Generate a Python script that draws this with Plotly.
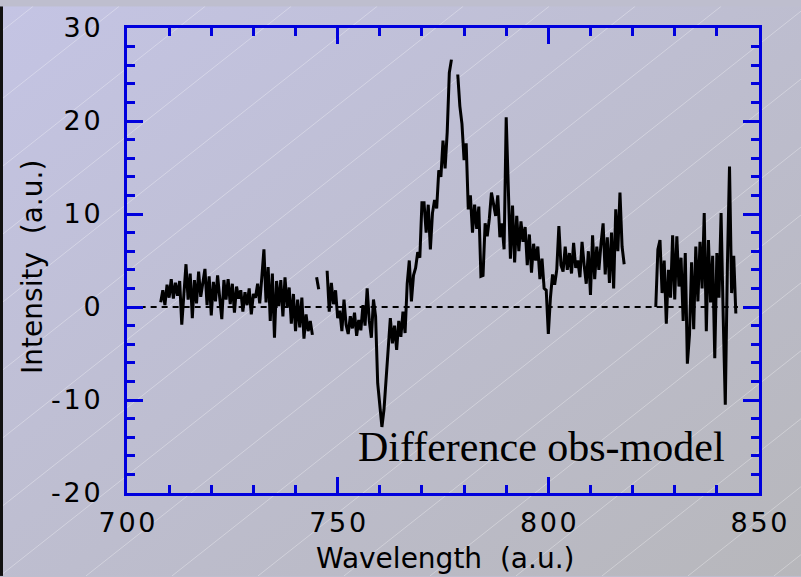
import base64
import numpy as np
import plotly.graph_objects as go

# Difference spectrum (observed - model), sampled every 0.5 nm.
# None marks missing samples (gaps in the trace).
step = 0.5

seg1_start = 708.0
seg1 = [0.5, 1.8, 0.2, 2.4, 1.0,
        3.0, 0.9, 2.6, 1.2,
        2.8, -1.9, 1.5, 4.6,
        0.8, 3.6, -1.2, 2.9,
        0.4, 3.8, 1.1, 2.5,
        4.1, 0.2, 3.3, -0.9,
        2.7, 0.6, 3.4, 1.0,
        -1.3, 2.9, 0.8, 3.0,
        0.3, 2.5, -0.6, 2.2,
        0.9, 1.8, -0.5, 1.6,
        0.2, 2.0, -0.8, 1.4,
        1.0, 2.5, 0.4, 3.2,
        6.2,
        0.5, 4.3, -1.5,
        3.6, -3.3, 2.8, 0.1,
        2.9, -1.0, 3.2, 0.0,
        2.1, -1.8, 1.4, -2.6,
        0.8, -2.2, 1.0, -3.4,
        -0.8, -2.6, -1.5, -3.0]

seg2_start = 745.0
seg2 = [3.2, 1.9]

seg3_start = 747.5
seg3 = [3.9, -0.5, 2.6, 0.3, 1.8, -1.2, -0.4, -2.6, 0.8, -1.9,
        -2.9, -1.0, -2.3, -0.6, -3.1, -1.4, -2.5, 0.2, -2.0, 2.0,
        -1.5, -3.3, 0.8, -1.0, -8.2, -10.4, -12.9, -11.0, -7.5, -3.8,
        -1.2, -3.9, -2.0, -4.6, -1.5, -3.2, -0.5, -2.8, 2.5, 5.0,
        0.6, 3.4, 4.2, 5.9, 5.3, 11.2, 11.2, 8.0, 11.0, 6.2,
        10.1, 11.5, 10.6, 14.7, 14.0, 17.9, 14.9, 18.8, 25.2, 26.6,
        None, None, 25.0, 21.6, 19.7, 15.8, 17.6, 10.5, 12.0, 8.0,
        11.0, 8.4, 10.8, 3.3, 3.4, 9.0, 7.6, 9.5, 12.3, 11.0,
        9.8, 12.0, 7.5, 9.0, 6.2, 20.4, 11.5, 5.2, 10.9, 4.8,
        9.8, 6.0, 9.2, 7.0, 8.6, 4.5, 7.8, 3.7, 6.8, 5.0,
        6.5, 3.0, 5.2, 2.0, 1.8, -2.9, 1.0, 3.5, 2.4, 4.0,
        8.7, 4.5, 3.8, 6.5, 4.0, 5.8, 3.6, 6.9, 4.2, 5.0,
        3.2, 7.0, 4.5, 2.5, 6.0, 1.3, 7.7, 3.0, 6.5, 4.0,
        6.8, 9.0, 3.5, 7.5, 2.6, 8.0, 2.0, 10.5, 6.0, 12.3,
        6.5, 4.6]

seg4_start = 825.5
seg4 = [0.0, 6.2, 7.2, 1.5, 5.0, -1.8, 4.0, 1.0, 7.7, 0.8,
        7.6, 2.2, 5.3, -1.5, 5.8, -6.1, -3.0, 4.8, -2.4, 6.5,
        0.6, 7.0, 2.0, 10.1, -2.6, 7.2, 0.5, 5.5, -5.5, 5.8,
        1.0, 10.1, -1.0, -10.5, 4.5, 15.1, 1.5, 5.5, -0.7]

segments = [(seg1_start, seg1), (seg2_start, seg2),
            (seg3_start, seg3), (seg4_start, seg4)]

zero_line_x = [703, 845]
zero_line_y = [0, 0]

x_tick_vals = [700, 750, 800, 850]
x_tick_text = ["700", "750", "800", "850"]
y_tick_vals = [-20, -10, 0, 10, 20, 30]
y_tick_text = ["-20", "-10", "0", "10", "20", "30"]

x_title = "Wavelength\u00a0\u00a0(a.u.)"
y_title = "Intensity\u00a0\u00a0(a.u.)"
note = "Difference obs-model"

# assemble the trace, separating segments with None
wl, diff = [], []
for start, vals in segments:
    wl.extend(start + step * i for i in range(len(vals)))
    diff.extend(vals)
    wl.append(None)
    diff.append(None)

HS = "\u200a"  # hair space for the widely tracked tick labels


def spaced(s):
    return HS.join(s)


# page background: diagonal lavender-to-grey gradient with faint hatch lines
W, H = 801, 577
hatch = []
for k in range(-12, 20):
    x0 = k * 86
    hatch.append(f'<line x1="{x0}" y1="{H}" x2="{x0 + H / 0.8:.1f}" y2="0" '
                 f'stroke="white" stroke-opacity="0.32" stroke-width="1"/>')
svg = (f'<svg xmlns="http://www.w3.org/2000/svg" width="{W}" height="{H}">'
       '<defs><linearGradient id="g" x1="0" y1="0" x2="1" y2="1">'
       '<stop offset="0" stop-color="rgb(196,196,228)"/>'
       '<stop offset="1" stop-color="rgb(183,183,187)"/>'
       '</linearGradient></defs>'
       f'<rect width="{W}" height="{H}" fill="url(#g)"/>'
       + "".join(hatch) +
       f'<rect x="0" y="0" width="3" height="{H}" fill="#111"/>'
       '</svg>')
bg_uri = "data:image/svg+xml;base64," + base64.b64encode(svg.encode()).decode()

ML, MR, MT, MB = 127, 42, 22, 84
PW, PH = W - ML - MR, H - MT - MB

BLUE = "#0000dd"
tick_font = dict(family="DejaVu Sans", size=27, color="black")

fig = go.Figure()
fig.add_trace(go.Scatter(x=zero_line_x, y=zero_line_y, mode="lines",
                         line=dict(color="black", width=2, dash="6px,5px"),
                         hoverinfo="skip"))
fig.add_trace(go.Scatter(x=wl, y=diff, mode="lines", connectgaps=False,
                         line=dict(color="black", width=3)))

axis_common = dict(showgrid=False, zeroline=False, showline=True,
                   linecolor=BLUE, linewidth=3, mirror="ticks",
                   ticks="inside", ticklen=16, tickwidth=3, tickcolor=BLUE,
                   tickfont=tick_font)

fig.update_xaxes(range=[700, 850], tickvals=x_tick_vals,
                 ticktext=[spaced(t) for t in x_tick_text],
                 minor=dict(dtick=10, tick0=700, ticks="inside", ticklen=8,
                            tickwidth=3, tickcolor=BLUE),
                 ticklabelstandoff=4, **axis_common)
fig.update_yaxes(range=[-20, 30], tickvals=y_tick_vals,
                 ticktext=[spaced(t) for t in y_tick_text],
                 minor=dict(dtick=2, tick0=0, ticks="inside", ticklen=8,
                            tickwidth=3, tickcolor=BLUE),
                 ticklabelstandoff=18, **axis_common)

fig.add_annotation(text=x_title, xref="paper", yref="paper",
                   x=(445 - ML) / PW, y=(H - MB - 559) / PH,
                   xanchor="center", yanchor="middle", showarrow=False,
                   font=dict(family="DejaVu Sans", size=28, color="black"))
fig.add_annotation(text=y_title, xref="paper", yref="paper",
                   x=(33 - ML) / PW, y=(H - MB - 264) / PH, textangle=-90,
                   xanchor="center", yanchor="middle", showarrow=False,
                   font=dict(family="DejaVu Sans", size=28, color="black"))
fig.add_annotation(text=note, xref="x", yref="y", x=842.5, y=-15.0,
                   xanchor="right", yanchor="middle", showarrow=False,
                   font=dict(family="Liberation Serif", size=42, color="black"))

fig.add_layout_image(dict(source=bg_uri, xref="paper", yref="paper",
                          x=-ML / PW, y=1 + MT / PH, sizex=W / PW, sizey=H / PH,
                          xanchor="left", yanchor="top", sizing="stretch",
                          layer="below"))

fig.update_layout(width=W, height=H, showlegend=False,
                  margin=dict(l=ML, r=MR, t=MT, b=MB, pad=0),
                  paper_bgcolor="rgb(190,190,206)",
                  plot_bgcolor="rgba(0,0,0,0)")

fig.write_html("out.html")
